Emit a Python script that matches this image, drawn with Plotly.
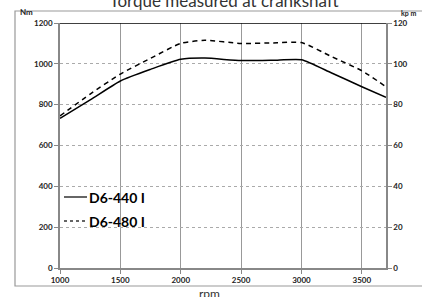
import plotly.graph_objects as go

rpm = [1000, 1250, 1500, 1750, 2000, 2200, 2500, 2800, 3000, 3250, 3500, 3700]
d6_440 = [733, 823, 916, 973, 1022, 1028, 1016, 1018, 1020, 955, 888, 836]
d6_480 = [745, 852, 950, 1027, 1100, 1115, 1100, 1103, 1104, 1035, 966, 888]
nm_ticks = [0, 200, 400, 600, 800, 1000, 1200]
kpm_ticks = [0, 20, 40, 60, 80, 100, 120]
rpm_ticks = [1000, 1500, 2000, 2500, 3000, 3500]
series_names = ["D6-440 I", "D6-480 I"]

FONT = "Lato"
TICKFONT = dict(family=FONT, size=8, color="#222222", weight="bold")
PW, PH = 326, 245  # plot area size in px

fig = go.Figure()
fig.add_trace(go.Scatter(x=rpm, y=d6_440, name=series_names[0], mode="lines",
                         line=dict(color="black", width=1.5, shape="spline", smoothing=0.6)))
fig.add_trace(go.Scatter(x=rpm, y=d6_480, name=series_names[1], mode="lines",
                         line=dict(color="black", width=1.5, dash="5px,4px", shape="spline", smoothing=0.6)))
# invisible trace for secondary axis
fig.add_trace(go.Scatter(x=[rpm[0]], y=[0], yaxis="y2", mode="markers",
                         marker=dict(opacity=0), showlegend=False, hoverinfo="skip"))

fig.update_layout(
    width=422, height=297,
    margin=dict(l=60, r=36, t=23, b=29),
    paper_bgcolor="white", plot_bgcolor="white",
    title=dict(text="Torque measured at crankshaft", x=224/422, xanchor="center",
               y=0.995, yref="container", yanchor="middle",
               font=dict(family=FONT, size=17, color="#333333")),
    xaxis=dict(range=[1000, 3700], tickvals=rpm_ticks, showgrid=True, automargin=False,
               gridcolor="#999999", gridwidth=1, showline=True, linecolor="#888888",
               linewidth=1.5, ticks="outside", ticklen=4, tickcolor="#888888",
               tickfont=TICKFONT, zeroline=False),
    yaxis=dict(range=[0, 1200], tickvals=nm_ticks, showgrid=True, automargin=False,
               gridcolor="#aaaaaa", griddash="dot", gridwidth=1, showline=True,
               linecolor="#888888", linewidth=1.5, ticks="outside", ticklen=4,
               tickcolor="#888888", tickfont=TICKFONT, zeroline=False),
    yaxis2=dict(range=[0, 120], tickvals=kpm_ticks, overlaying="y", side="right",
                showgrid=False, showline=True, linecolor="#888888", linewidth=1.5,
                automargin=False, ticks="outside", ticklen=4, tickcolor="#888888",
                tickfont=TICKFONT, zeroline=False),
    showlegend=False,
)

# top border of plot area (black)
fig.add_shape(type="line", xref="paper", yref="y", x0=0, x1=1, y0=1200, y1=1200,
              line=dict(color="black", width=1.5))
# outer chart border
fig.add_shape(type="rect", xref="paper", yref="paper",
              x0=-45/PW, x1=60/PW + 1, y0=-18/PH, y1=1 + 12/PH,
              line=dict(color="#999999", width=1.2))

# manual legend inside plot
leg_y = [1 - (197 - 23) / PH, 1 - (221 - 23) / PH]
leg_dash = ["solid", "3px,3px"]
for name, ly, dsh in zip(series_names, leg_y, leg_dash):
    fig.add_shape(type="line", xref="paper", yref="paper",
                  x0=4/PW, x1=27/PW, y0=ly, y1=ly,
                  line=dict(color="#333333", width=1.5, dash=dsh))
    fig.add_annotation(text=name, xref="paper", yref="paper", x=27/PW, y=ly,
                       xanchor="left", yanchor="middle", showarrow=False,
                       font=dict(family=FONT, size=14, color="black", weight="bold"))

fig.add_annotation(text="Nm", xref="paper", yref="paper", x=-42/PW, y=1 + 11/PH,
                   xanchor="left", yanchor="middle", showarrow=False,
                   font=dict(family=FONT, size=8, color="#222222", weight="bold"))
fig.add_annotation(text="kp m", xref="paper", yref="paper", x=1 + 13/PW, y=1 + 10/PH,
                   xanchor="left", yanchor="middle", showarrow=False,
                   font=dict(family=FONT, size=7, color="#222222", weight="bold"))
fig.add_annotation(text="rpm", xref="paper", yref="paper", x=0.46, y=-25/PH,
                   xanchor="center", yanchor="middle", showarrow=False,
                   font=dict(family=FONT, size=12, color="#333333"))

fig.write_html("out.html", config={"displayModeBar": False},
               post_script="document.body.style.margin='0';document.body.style.overflow='hidden';")
